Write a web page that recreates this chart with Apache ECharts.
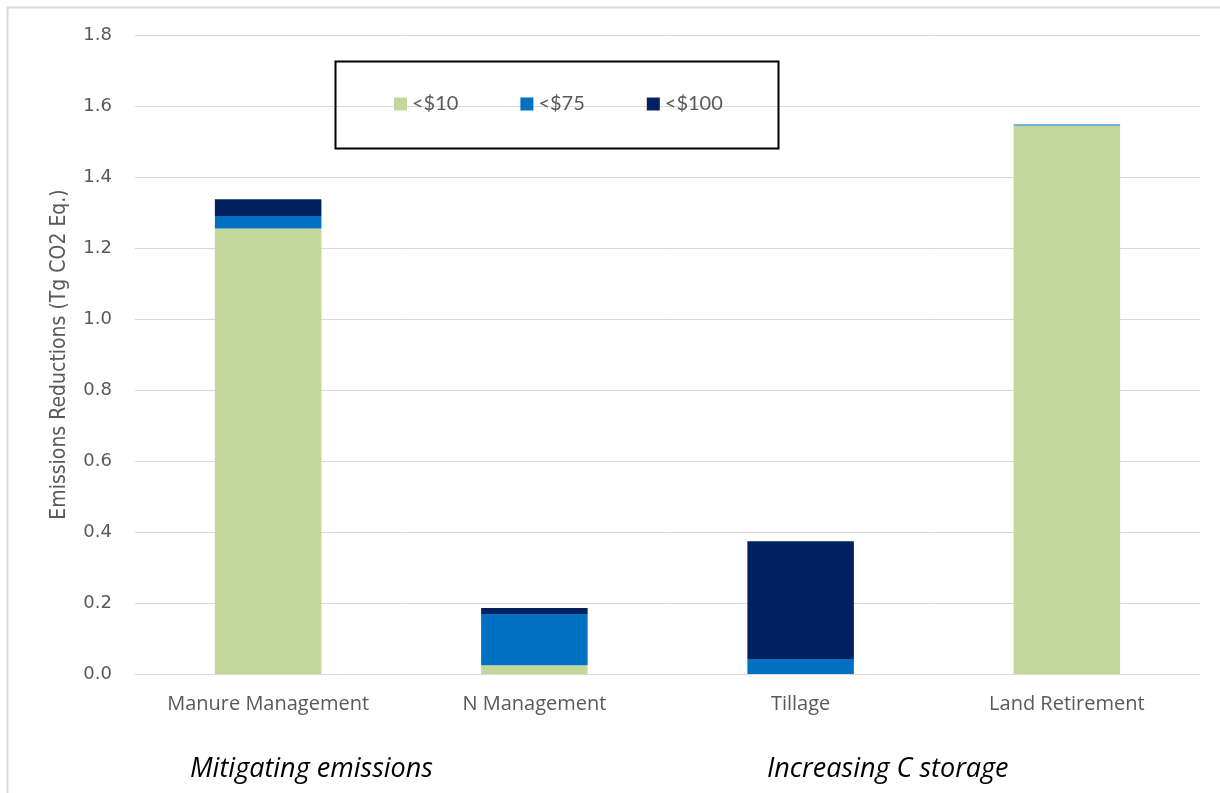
<!DOCTYPE html>
<html>
<head>
<meta charset="utf-8">
<script src="https://cdn.jsdelivr.net/npm/echarts@6/dist/echarts.min.js"></script>
<style>
  html, body { margin: 0; padding: 0; background: #fff; }
  #chart { width: 1220px; height: 793px; }
</style>
</head>
<body>
<div id="chart"></div>
<script>
const categories = ['Manure Management', 'N Management', 'Tillage', 'Land Retirement'];
const under10 = [1.255, 0.025, 0, 1.545];
const under75 = [0.035, 0.144, 0.042, 0.003];
const under100 = [0.047, 0.017, 0.332, 0];
const seriesNames = ['<$10', '<$75', '<$100'];
const groupLabels = ['Mitigating emissions', 'Increasing C storage'];

const chart = echarts.init(document.getElementById('chart'));

const makeBar = (name, data, color) => ({
  name,
  type: 'bar',
  stack: 'total',
  barWidth: '40%',
  itemStyle: { color },
  data,
});

const option = {
  animation: false,
  grid: { left: 135, right: 20, top: 35, bottom: 119 },
  legend: {
    data: seriesNames,
    left: 389,
    top: 89,
    itemWidth: 13,
    itemHeight: 13,
    itemGap: 62,
    icon: 'rect',
    textStyle: { fontFamily: 'Lato', fontSize: 20, color: '#595959' },
  },
  xAxis: {
    type: 'category',
    data: categories,
    axisLine: { lineStyle: { color: '#d9d9d9', width: 1 } },
    axisTick: { show: false },
    axisLabel: { fontFamily: 'Open Sans', fontSize: 20, color: '#595959', margin: 20 },
  },
  yAxis: {
    type: 'value',
    min: 0,
    max: 1.8,
    interval: 0.2,
    name: 'Emissions Reductions (Tg CO2 Eq.)',
    nameLocation: 'middle',
    nameGap: 65,
    nameTextStyle: { fontFamily: 'DejaVu Sans Condensed', fontSize: 21, color: '#595959' },
    axisLine: { show: false },
    axisTick: { show: false },
    splitLine: { lineStyle: { color: '#d9d9d9', width: 1 } },
    axisLabel: {
      fontFamily: 'DejaVu Sans',
      fontSize: 18,
      color: '#595959',
      margin: 23,
      formatter: (v) => v.toFixed(1),
    },
  },
  graphic: [
    {
      type: 'rect',
      left: 5,
      top: 5,
      shape: { width: 1240, height: 820 },
      style: { fill: 'none', stroke: '#d9d9d9', lineWidth: 2 },
      silent: true,
    },
    {
      type: 'rect',
      left: 333,
      top: 59,
      shape: { width: 443, height: 87 },
      style: { fill: 'none', stroke: '#000', lineWidth: 2 },
      z: 100,
      silent: true,
    },
    {
      type: 'text',
      left: 190,
      top: 756,
      style: { text: groupLabels[0], font: 'italic 27px "Open Sans"', fill: '#000' },
    },
    {
      type: 'text',
      left: 767,
      top: 756,
      style: { text: groupLabels[1], font: 'italic 27px "Open Sans"', fill: '#000' },
    },
  ],
  series: [
    makeBar(seriesNames[0], under10, '#c4d79b'),
    makeBar(seriesNames[1], under75, '#0070c0'),
    makeBar(seriesNames[2], under100, '#002060'),
  ],
};

chart.setOption(option);
</script>
</body>
</html>
